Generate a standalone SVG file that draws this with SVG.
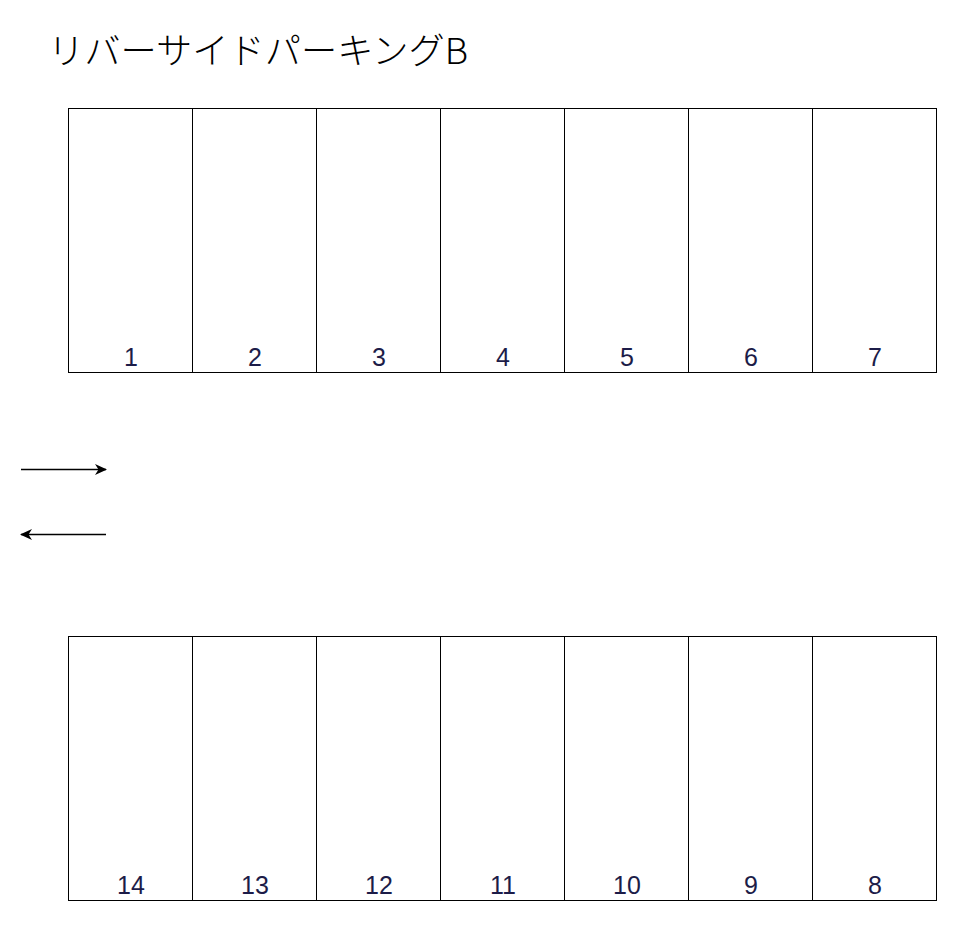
<svg xmlns="http://www.w3.org/2000/svg" width="963" height="926" viewBox="0 0 963 926">
<defs>
<style>
.slot{fill:#fff;stroke:#000;stroke-width:1}
.num{font-family:"Liberation Sans","Noto Sans CJK JP",sans-serif;font-size:25px;fill:#1c1c48;text-anchor:middle}
.title{font-family:"Noto Sans CJK JP","Liberation Sans",sans-serif;font-size:36px;font-weight:300;fill:#000}
.arr{stroke:#000;stroke-width:1.6;fill:none}
</style>
<marker id="ah" viewBox="0 0 12 12" refX="11" refY="6" markerWidth="12" markerHeight="12" markerUnits="userSpaceOnUse" orient="auto">
<path d="M0,0.5 L12,6 L0,11.5 L3.5,6 Z" fill="#000"/>
</marker>
</defs>
<rect width="963" height="926" fill="#fff"/>
<text class="title" x="48" y="64" textLength="420" lengthAdjust="spacingAndGlyphs">リバーサイドパーキングB</text>
<g id="slot1"><rect class="slot" x="68.5" y="108.5" width="124" height="264"/><text class="num" x="131" y="366">1</text></g>
<g id="slot2"><rect class="slot" x="192.5" y="108.5" width="124" height="264"/><text class="num" x="255" y="366">2</text></g>
<g id="slot3"><rect class="slot" x="316.5" y="108.5" width="124" height="264"/><text class="num" x="379" y="366">3</text></g>
<g id="slot4"><rect class="slot" x="440.5" y="108.5" width="124" height="264"/><text class="num" x="503" y="366">4</text></g>
<g id="slot5"><rect class="slot" x="564.5" y="108.5" width="124" height="264"/><text class="num" x="627" y="366">5</text></g>
<g id="slot6"><rect class="slot" x="688.5" y="108.5" width="124" height="264"/><text class="num" x="751" y="366">6</text></g>
<g id="slot7"><rect class="slot" x="812.5" y="108.5" width="124" height="264"/><text class="num" x="875" y="366">7</text></g>
<g id="slot14"><rect class="slot" x="68.5" y="636.5" width="124" height="264"/><text class="num" x="131" y="894">14</text></g>
<g id="slot13"><rect class="slot" x="192.5" y="636.5" width="124" height="264"/><text class="num" x="255" y="894">13</text></g>
<g id="slot12"><rect class="slot" x="316.5" y="636.5" width="124" height="264"/><text class="num" x="379" y="894">12</text></g>
<g id="slot11"><rect class="slot" x="440.5" y="636.5" width="124" height="264"/><text class="num" x="503" y="894">11</text></g>
<g id="slot10"><rect class="slot" x="564.5" y="636.5" width="124" height="264"/><text class="num" x="627" y="894">10</text></g>
<g id="slot9"><rect class="slot" x="688.5" y="636.5" width="124" height="264"/><text class="num" x="751" y="894">9</text></g>
<g id="slot8"><rect class="slot" x="812.5" y="636.5" width="124" height="264"/><text class="num" x="875" y="894">8</text></g>
<g id="connectors">
<line class="arr" x1="21" y1="469.5" x2="106" y2="469.5" marker-end="url(#ah)"/>
<line class="arr" x1="106" y1="534.5" x2="21" y2="534.5" marker-end="url(#ah)"/>
</g>
</svg>
